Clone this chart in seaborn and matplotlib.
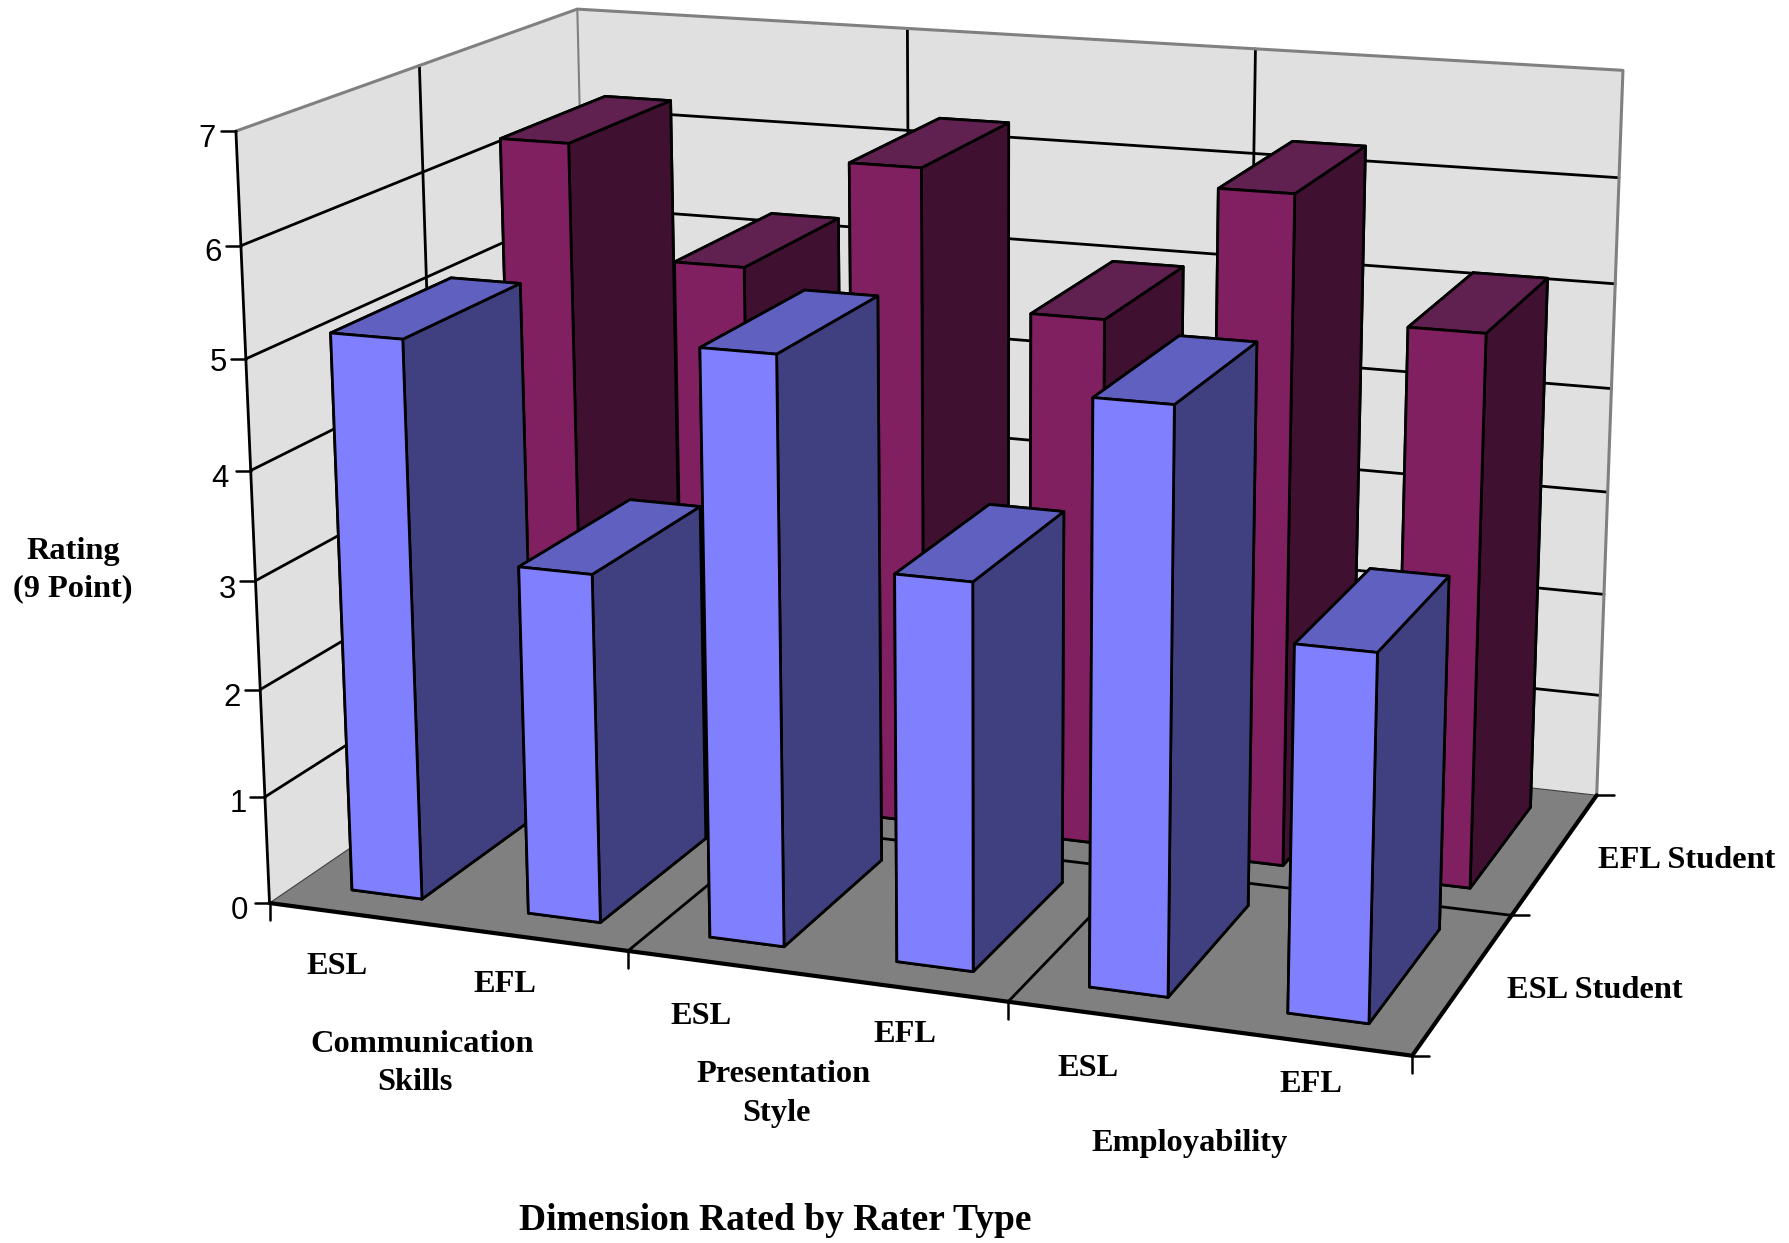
#!/usr/bin/env python
"""Ratings by dimension, rater type and student group, as a 3D bar chart."""

import numpy as np
import matplotlib
matplotlib.use("Agg")
import matplotlib.pyplot as plt
import seaborn as sns
from matplotlib.lines import Line2D
from mpl_toolkits.mplot3d.art3d import Poly3DCollection

# data
dimension_lines = ["Communication", "Skills", "Presentation", "Style", "Employability"]
rater_types = ["ESL", "EFL", "ESL", "EFL", "ESL", "EFL"]
student_groups = ["ESL Student", "EFL Student"]
esl_student = [5.15, 3.2, 5.3, 3.48, 5.16, 3.23]
efl_student = [6.25, 5.2, 6.25, 4.98, 6.25, 5.13]
rating_ticks = [0, 1, 2, 3, 4, 5, 6, 7]

BAR_W = 0.4
BAR_D = 0.68
BAR_X_OFFSET = 0.306
W, H = 1790, 1243

# axis corners and tick ends as seen on the page: (x, y, z) -> pixel
anchors = [
    ((0, 0, 7), (236.7, 130)), ((0, 2, 7), (576.7, 9)), ((6, 2, 7), (1623, 70.7)),
    ((0, 0, 0), (270, 902.7)), ((6, 0, 0), (1412.3, 1056)), ((6, 2, 0), (1597.3, 795)),
    ((2, 0, 0), (627.3, 951)), ((6, 1, 0), (1511, 915)), ((0, 1, 7), (420, 66)),
    ((0, 0, 6), (240, 246)), ((0, 0, 1), (265, 797.7)),
]


def fit_camera(points3d, points2d):
    """Least squares 3x4 camera matrix from point pairs (DLT)."""
    rows = []
    for (x, y, z), (u, v) in zip(points3d, points2d):
        rows.append([x, y, z, 1, 0, 0, 0, 0, -u * x, -u * y, -u * z, -u])
        rows.append([0, 0, 0, 0, x, y, z, 1, -v * x, -v * y, -v * z, -v])
    _, _, vt = np.linalg.svd(np.array(rows, float))
    cam = vt[-1].reshape(3, 4)
    if cam[2, 3] < 0:
        cam = -cam
    return cam / cam[2, 3]


xyz = [a[0] for a in anchors]
pix = [a[1] for a in anchors]
CAM = fit_camera(xyz, pix)


def to_pixels(x, y, z):
    u, v, w = CAM @ np.array([x, y, z, 1.0])
    return u / w, v / w


sns.set_theme(style="white", rc={"text.color": "black"})
plt.rcParams["font.family"] = ["Liberation Serif", "DejaVu Serif"]

fig = plt.figure(figsize=(W / 100, H / 100), dpi=100)
ax = fig.add_axes([-0.4, -0.4, 1.8, 1.8], projection="3d")
ax.set_axis_off()
ax.computed_zorder = False


def proj_from_page():
    """Camera matrix in the axes' own 2D coordinates, used by mplot3d."""
    flipped = [(u, H - v) for u, v in pix]
    data2d = ax.transData.inverted().transform(flipped)
    cam = fit_camera(xyz, data2d)
    return np.vstack([cam[0], cam[1], [0, 0, 0, -1], cam[2]])


ax.get_proj = proj_from_page

# walls and floor
walls = [
    [(0, 0, 0), (0, 2, 0), (0, 2, 7), (0, 0, 7)],
    [(0, 2, 0), (6, 2, 0), (6, 2, 7), (0, 2, 7)],
]
ax.add_collection3d(Poly3DCollection(walls, facecolor="#e0e0e0", edgecolor="none", zorder=1))
floor = [[(0, 0, 0), (6, 0, 0), (6, 2, 0), (0, 2, 0)]]
ax.add_collection3d(Poly3DCollection(floor, facecolor="#808080", edgecolor="none", zorder=1))

# grid
GRID_LW = 2.0
for r in rating_ticks[1:-1]:
    ax.plot([0, 0, 6], [0, 2, 2], [r, r, r], color="black", lw=GRID_LW, zorder=2)
for x in [2, 4]:
    ax.plot([x, x, x], [0, 2, 2], [0, 0, 7], color="black", lw=GRID_LW, zorder=2)
ax.plot([0, 0], [1, 1], [0, 7], color="black", lw=GRID_LW, zorder=2)
ax.plot([0, 6], [1, 1], [0, 0], color="black", lw=GRID_LW, zorder=2)

# wall outlines
ax.plot([0, 0, 6, 6], [0, 2, 2, 2], [7, 7, 7, 0], color="#808080", lw=2.2, zorder=2)
ax.plot([0, 0], [2, 2], [0, 7], color="#808080", lw=1.5, zorder=2)
ax.plot([0, 0, 6], [0, 2, 2], [0, 0, 0], color="#404040", lw=0.8, zorder=2)
ax.plot([0, 0], [0, 0], [0, 7], color="black", lw=2.0, zorder=2)
ax.plot([0, 6, 6], [0, 0, 2], [0, 0, 0], color="black", lw=3.0, zorder=2)

blue_faces = ["#404080", "#6060c0", "#8080ff", "#404080", "#404080", "#404080"]
wine_faces = ["#401030", "#602050", "#802060", "#401030", "#401030", "#401030"]


def draw_row(values, row, faces, start_z):
    for i, h in enumerate(values):
        bar = ax.bar3d(i + BAR_X_OFFSET, row + (1 - BAR_D) / 2, 0, BAR_W, BAR_D, h,
                       color=faces, shade=False, edgecolor="black", linewidth=2.0)
        bar.set_zorder(start_z + i)


draw_row(efl_student, 1, wine_faces, 10)
draw_row(esl_student, 0, blue_faces, 30)
ax.set_xlim(0, 6)
ax.set_ylim(0, 2)
ax.set_zlim(0, 7)


def tick(x, y, z, dx, dy):
    u, v = to_pixels(x, y, z)
    fig.add_artist(Line2D([u / W, (u + dx) / W], [1 - v / H, 1 - (v + dy) / H],
                          color="black", lw=1.8, transform=fig.transFigure))


for r in rating_ticks:
    tick(0, 0, r, -15, 0)
for x in [0, 2, 4, 6]:
    tick(x, 0, 0, 0, 17)
for y in [0, 1, 2]:
    tick(6, y, 0, 17, 0)


def put(x, y, s, size=23.3, **kw):
    """Text placed by its centre on the page."""
    fig.text(x / W, 1 - y / H, s, ha="center", va="center", fontsize=size, **kw)


sans = ["Liberation Sans", "DejaVu Sans"]
rating_xy = [(239, 911), (238, 804), (232, 698), (227, 590), (220, 479), (218, 363), (213, 253), (207, 139)]
for r, (x, y) in zip(rating_ticks, rating_xy):
    put(x, y, str(r), size=22.4, family=sans)

rater_xy = [(337, 966), (505, 984), (701, 1016), (905, 1034), (1088, 1068), (1311, 1085)]
for s, (x, y) in zip(rater_types, rater_xy):
    put(x, y, s, fontweight="bold")

dim_xy = [(422, 1045), (415, 1083), (784, 1074), (777, 1114), (1190, 1144)]
for s, (x, y) in zip(dimension_lines, dim_xy):
    put(x, y, s, fontweight="bold")

group_xy = [(1595, 990), (1687, 860)]
for s, (x, y) in zip(student_groups, group_xy):
    put(x, y, s, fontweight="bold")

put(73, 552, "Rating", fontweight="bold")
put(73, 589, "(9 Point)", fontweight="bold")
put(775, 1221, "Dimension Rated by Rater Type", size=27, fontweight="bold")

fig.savefig("out.png", dpi=100)
